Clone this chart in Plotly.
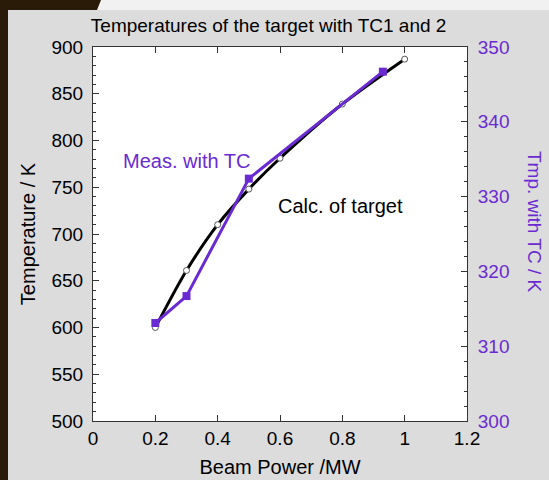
import plotly.graph_objects as go

# ---- data ----
calc_power = [0.2, 0.3, 0.4, 0.5, 0.6, 0.8, 1.0]
calc_temp = [600, 661, 710, 748, 781, 839, 887]
meas_power = [0.2, 0.3, 0.5, 0.93]
meas_temp = [313.1, 316.7, 332.4, 346.7]

title_text = "Temperatures of the target with TC1 and 2"
x_title = "Beam Power /MW"
y_title = "Temperature / K"
y2_title = "Tmp. with TC / K"
meas_label = "Meas. with TC"
calc_label = "Calc. of target"

# ---- layout geometry (pixels) ----
W, H = 549, 480
L, R, T, B = 93, 467, 47, 421
PW, PH = R - L, B - T


def px(x):
    return (x - L) / PW


def py(y):
    return (B - y) / PH


PURPLE = "#6a2ad2"
FONT = "Liberation Sans, Arial, sans-serif"

fig = go.Figure()
fig.add_trace(go.Scatter(
    x=calc_power, y=calc_temp, mode="lines",
    line=dict(color="black", width=3, shape="spline", smoothing=0.8),
    showlegend=False, yaxis="y"))
fig.add_trace(go.Scatter(
    x=meas_power, y=meas_temp, mode="lines+markers",
    line=dict(color=PURPLE, width=3),
    marker=dict(symbol="square", size=8, color=PURPLE),
    showlegend=False, yaxis="y2"))
fig.add_trace(go.Scatter(
    x=calc_power, y=calc_temp, mode="markers",
    marker=dict(symbol="circle", size=6, color="white",
                line=dict(color="#555555", width=1)),
    showlegend=False, yaxis="y"))

shapes = [
    # dark strip on the left
    dict(type="rect", xref="paper", yref="paper", layer="below",
         x0=px(0), x1=px(8), y0=py(H), y1=py(0),
         fillcolor="#2a1a08", line=dict(width=0)),
    # light strip at the top
    dict(type="rect", xref="paper", yref="paper", layer="below",
         x0=px(95), x1=px(W), y0=py(10), y1=py(0),
         fillcolor="#f1f1f1", line=dict(width=0)),
    # dark corner at the top left
    dict(type="path", xref="paper", yref="paper", layer="below",
         path=f"M {px(0)} {py(0)} L {px(101)} {py(0)} L {px(97)} {py(10)} L {px(0)} {py(10)} Z",
         fillcolor="#2a1a08", line=dict(width=0)),
]

annotations = [
    dict(text=meas_label, xref="paper", yref="paper", x=px(186), y=py(161),
         xanchor="center", yanchor="middle",
         showarrow=False, font=dict(size=20, color=PURPLE, family=FONT)),
    dict(text=calc_label, xref="paper", yref="paper", x=px(340), y=py(206),
         xanchor="center", yanchor="middle",
         showarrow=False, font=dict(size=20, color="black", family=FONT)),
    dict(text=y2_title, xref="paper", yref="paper", x=px(535), y=py(221),
         xanchor="center", yanchor="middle",
         showarrow=False, textangle=90,
         font=dict(size=19, color=PURPLE, family=FONT)),
]

fig.update_layout(
    width=W, height=H,
    margin=dict(l=L, r=W - R, t=T, b=H - B, autoexpand=False),
    paper_bgcolor="#dcdcdc", plot_bgcolor="white",
    font=dict(family=FONT, size=19, color="black"),
    title=dict(text=title_text, x=px(276), xanchor="center",
               y=1 - 25 / H, yanchor="middle",
               font=dict(size=19, color="black", family=FONT)),
    shapes=shapes, annotations=annotations,
    xaxis=dict(range=[0, 1.2], dtick=0.2, tick0=0, ticks="inside", ticklen=6,
               tickcolor="#333", showline=True, linecolor="#333", linewidth=1,
               mirror="ticks", showgrid=False, zeroline=False, automargin=False,
               tickfont=dict(size=19),
               title=dict(text=x_title, font=dict(size=20), standoff=12)),
    yaxis=dict(range=[500, 900], dtick=50, tick0=500, ticks="inside", ticklen=6,
               tickcolor="#333", showline=True, linecolor="#333", linewidth=1,
               showgrid=False, zeroline=False, tickfont=dict(size=19),
               ticklabelstandoff=5, automargin=False,
               minor=dict(dtick=10, ticks="inside", ticklen=3, tickcolor="#333"),
               title=dict(text=y_title, font=dict(size=20), standoff=10)),
    yaxis2=dict(range=[300, 350], dtick=10, tick0=300, ticks="inside", ticklen=6,
                tickcolor="#333", showline=True, linecolor="#333", linewidth=1,
                overlaying="y", side="right", showgrid=False, zeroline=False,
                tickfont=dict(size=19, color=PURPLE), ticklabelstandoff=6,
                automargin=False,
                minor=dict(dtick=2, ticks="inside", ticklen=3, tickcolor="#333")),
)

fig.write_html("out.html")
